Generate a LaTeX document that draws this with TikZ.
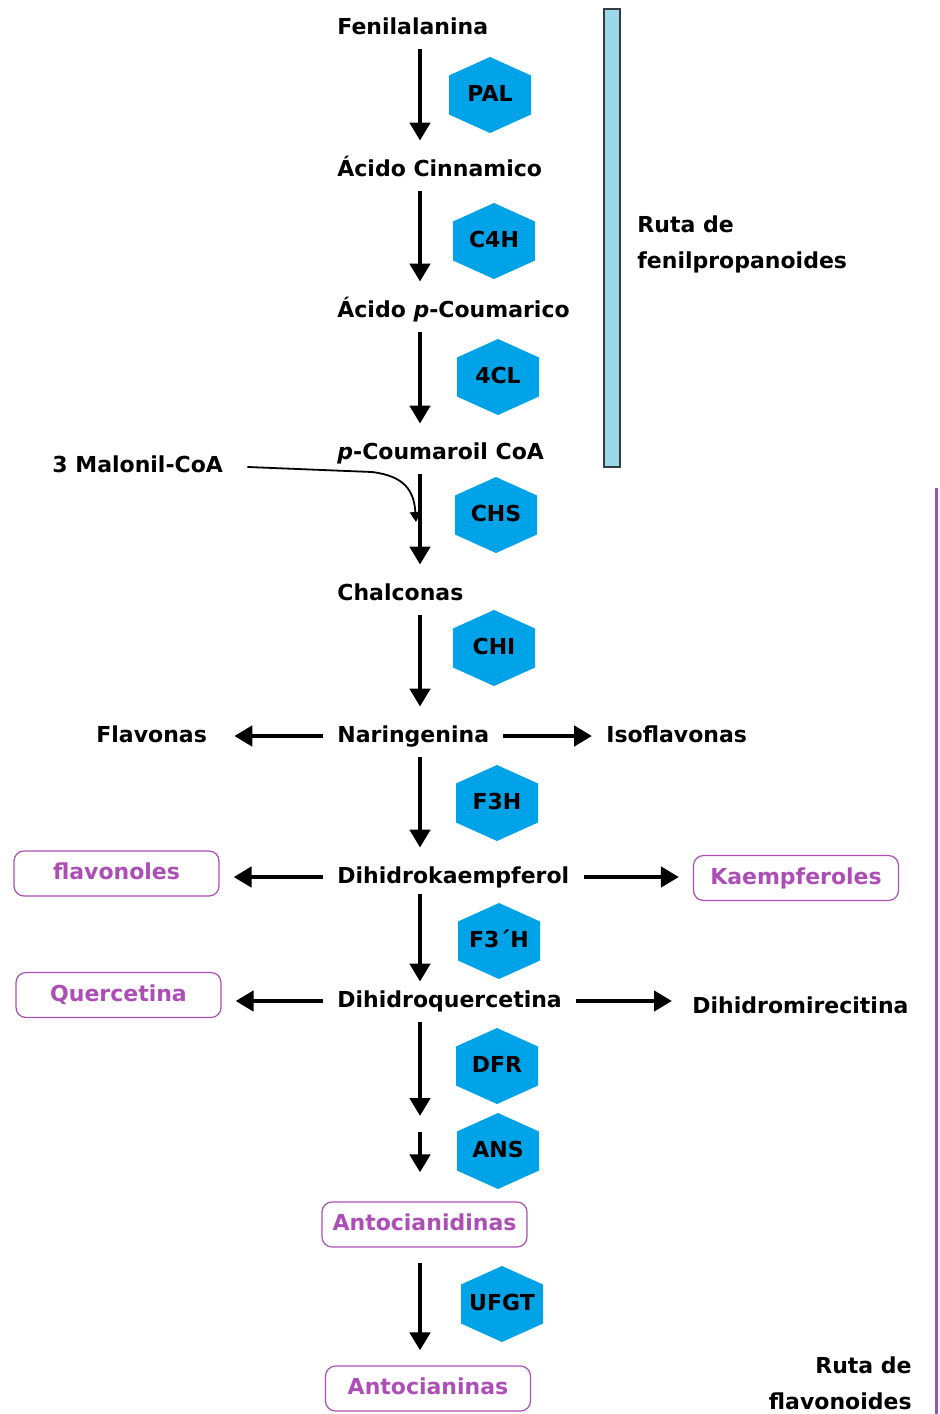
\documentclass[tikz,border=0pt]{standalone}
\usepackage{fontspec}
\setmainfont{DejaVu Sans}
\usetikzlibrary{arrows.meta}
\definecolor{enzblue}{RGB}{0,162,232}
\definecolor{barblue}{RGB}{155,216,234}
\definecolor{barline}{RGB}{50,60,65}
\definecolor{flavpurple}{RGB}{172,78,182}
\definecolor{linepurple}{RGB}{155,85,165}

\begin{document}
\begin{tikzpicture}[x=0.5pt, y=-0.5pt,
  font=\fontsize{11}{13}\selectfont\bfseries,
  every node/.style={inner sep=0pt, text height=8.5pt, text depth=2.5pt},
  met/.style={anchor=base west},
  prod/.style={draw=flavpurple, text=flavpurple, line width=0.6pt,
    rounded corners=5pt, minimum width=102.5pt, minimum height=22.5pt},
  ruta/.style={text height=, text depth=,
    font=\fontsize{11}{18}\selectfont\bfseries},
  varr/.style={line width=2.4pt, -{Triangle[width=10pt,length=9pt]},
    shorten <=5pt, shorten >=9pt},
  harr/.style={line width=2.4pt, -{Triangle[width=10pt,length=9pt]},
    shorten <=7pt, shorten >=7pt}]
  \useasboundingbox (0,0) rectangle (940,1414);
  \coordinate (ax) at (420,0);
  % bars
  \draw[barline, fill=barblue, line width=1pt] (604,9) rectangle (620,467);
  \draw[linepurple, line width=1.5pt] (936,488) -- (936,1414);
  \node[ruta, anchor=north west, align=left] (rutafen) at (637,215)
    {Ruta de\\fenilpropanoides};
  \node[ruta, anchor=north east, align=right] (rutaflav) at (912,1356)
    {Ruta de\\flavonoides};
  % enzymes
  \foreach \n/\x/\y/\t in {pal/490/95/PAL, cfh/494/241/C4H, fcl/498/377/4CL,
      chs/496/515/CHS, chi/494/648/CHI, fth/497/803/F3H, ftph/499/941/F3´H,
      dfr/497/1066/DFR, ans/498/1151/ANS, ufgt/502/1304/UFGT} {
    \fill[enzblue] (\x,\y) +(0,-38) -- +(41,-19.5) -- +(41,19.5) -- +(0,38)
      -- +(-41,19.5) -- +(-41,-19.5) -- cycle;
    \node (\n) at (\x,\y) {\t};
  }
  % metabolites
  \node[met] (fen) at (337,34) {Fenilalanina};
  \node[met] (cin) at (337,176) {Ácido Cinnamico};
  \node[met] (cou) at (337,317) {Ácido \textit{p}-Coumarico};
  \node[met] (coa) at (337,459) {\textit{p}-Coumaroil CoA};
  \node[met] (mal) at (52,472) {3 Malonil-CoA};
  \node[met] (chal) at (337,600) {Chalconas};
  \node[met] (nar) at (337,742) {Naringenina};
  \node[met] (flv) at (96,742) {Flavonas};
  \node[met] (iso) at (606,742) {Isoflavonas};
  \node[met] (dk) at (337,883) {Dihidrokaempferol};
  \node[met] (dq) at (337,1007) {Dihidroquercetina};
  \node[met] (dmi) at (692,1013) {Dihidromirecitina};
  % products
  \node[prod] (flvl) at (116.5,873.5) {flavonoles};
  \node[prod] (kae) at (796,878) {Kaempferoles};
  \node[prod] (que) at (118.5,995) {Quercetina};
  \node[prod] (acd) at (424.5,1224.5) {Antocianidinas};
  \node[prod] (acn) at (428,1388.5) {Antocianinas};
  % main chain
  \draw[varr] (fen.south -| ax) -- (cin.north -| ax);
  \draw[varr] (cin.south -| ax) -- (cou.north -| ax);
  \draw[varr] (cou.south -| ax) -- (coa.north -| ax);
  \draw[varr] (coa.south -| ax) -- (chal.north -| ax);
  \draw[varr] (chal.south -| ax) -- (nar.north -| ax);
  \draw[varr] (nar.south -| ax) -- (dk.north -| ax);
  \draw[varr, shorten <=3pt, shorten >=4pt] (dk.south -| ax) -- (dq.north -| ax);
  \coordinate (leuco) at (420,1124);
  \draw[varr, shorten >=4pt] (dq.south -| ax) -- (leuco);
  \draw[varr, shorten <=4pt, shorten >=14.5pt] (leuco) -- (acd.north -| ax);
  \draw[varr, shorten <=7.5pt, shorten >=7.5pt] (acd.south -| ax) -- (acn.north -| ax);
  % malonil
  \coordinate (malend) at (416,522);
  \draw[line width=0.9pt, -{Triangle[width=5.5pt,length=5pt]}, shorten <=12pt]
    (mal.east) -- (372,472) .. controls (404,476) and (414,490) .. (malend);
  % side branches
  \draw[harr, shorten >=13.5pt] (nar.west) -- (flv.east);
  \draw[harr] (nar.east) -- (iso.west);
  \draw[harr] (dk.west) -- (flvl.east |- dk.west);
  \draw[harr] (dk.east) -- (kae.west |- dk.east);
  \draw[harr] (dq.west) -- (que.east |- dq.west);
  \draw[harr, shorten >=10pt] (dq.east) -- (dmi.west |- dq.east);
\end{tikzpicture}
\end{document}
